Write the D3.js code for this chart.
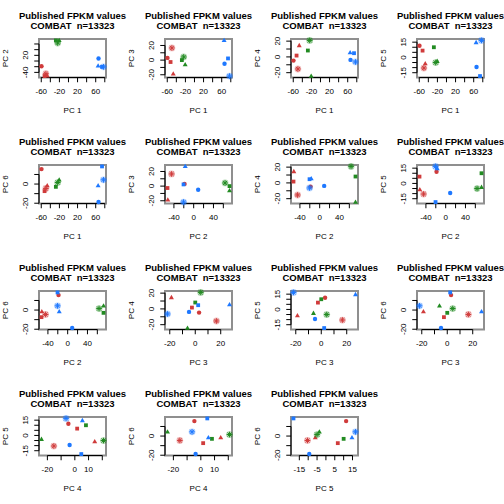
<!DOCTYPE html>
<html><head><meta charset="utf-8">
<script src="https://cdn.jsdelivr.net/npm/d3@7"></script>
<style>body{margin:0;background:#fff}svg text{font-family:"Liberation Sans",Arial,sans-serif;white-space:pre}</style>
</head><body><svg id="c" width="504" height="504"></svg>
<script>
// samples
const sampleGroup = ["red","red","red","red","green","green","green","blue","blue","blue","blue"];
const sampleShape = ["circle","square","triangle","star","square","triangle","star","circle","square","triangle","star"];
// principal components
const pc1 = [-59.5,-52.7,-46.8,-49.8,-27.8,-20.5,-23.8,66.2,73.9,65.3,77.2];
const pc2 = [-18.5,-53.0,-52.3,-44.7,72.5,72.5,63.5,9.1,-20.5,-17.1,-20.5];
const pc3 = [3.0,-2.6,-18.7,16.6,0.0,-6.1,4.3,-4.9,2.3,26.9,-21.8];
const pc4 = [-4.7,1.7,14.5,-15.3,8.1,-24.3,20.9,-3.8,4.7,5.5,-6.4];
const pc5 = [11.4,6.7,-6.0,-10.4,10.0,-3.7,-5.0,-9.4,-18.3,14.7,16.7];
const pc6 = [15.6,-7.4,-1.5,-4.6,-2.9,4.4,1.6,-18.8,18.4,-1.5,4.4];
const pcs = [pc1,pc2,pc3,pc4,pc5,pc6];
const pcNames = ["PC 1","PC 2","PC 3","PC 4","PC 5","PC 6"];
// ticks and labels per PC
const pcTicks = [[-60,-40,-20,0,20,40,60,80],[-40,-20,0,20,40,60],[-20,-10,0,10,20],[-20,-10,0,10,20],[-15,-10,-5,0,5,10,15],[-20,-10,0,10]];
const xLabels = [[-60,-20,20,60],[-40,0,40],[-20,0,20],[-20,0,10],[-15,-5,5,15],[-20,0]];
const yLabels = [[-60,-20,20,60],[-40,20],[-20,0,20],[-20,0,20],[-15,0,15],[-20,0]];
// panel pairs (x PC index, y PC index)
const pairs = [[0,1],[0,2],[0,3],[0,4],[0,5],[1,2],[1,3],[1,4],[1,5],[2,3],[2,4],[2,5],[3,4],[3,5],[4,5]];
const titleLines = ["Published FPKM values","COMBAT  n=13323"];
const colors = {red:"#D03B3B",green:"#228B22",blue:"#1E78FF"};

const svg = d3.select("#c");
const cell = 126, L = 39, R = 106, T = 39, B = 77.5;
function padded(arr){const e=d3.extent(arr);const p=(e[1]-e[0])*0.04;return [e[0]-p,e[1]+p];}

pairs.forEach((pr,i)=>{
  const col=i%4,row=Math.floor(i/4);
  const g=svg.append("g").attr("transform",`translate(${col*cell},${row*cell})`);
  const xi=pr[0],yi=pr[1];
  const x=d3.scaleLinear().domain(padded(pcs[xi])).range([L,R]);
  const y=d3.scaleLinear().domain(padded(pcs[yi])).range([B,T]);
  // box
  g.append("rect").attr("x",L).attr("y",T).attr("width",R-L).attr("height",B-T)
    .attr("fill","none").attr("stroke","#8f8f8f").attr("stroke-width",2);
  // x axis
  const xt=pcTicks[xi];
  g.append("line").attr("x1",x(xt[0])).attr("x2",x(xt[xt.length-1])).attr("y1",B).attr("y2",B).attr("stroke","#000").attr("stroke-width",1);
  g.selectAll(".xt").data(xt).join("line").attr("x1",d=>x(d)).attr("x2",d=>x(d)).attr("y1",B).attr("y2",B+4.75).attr("stroke","#000");
  g.selectAll(".xl").data(xLabels[xi]).join("text").attr("x",d=>x(d)).attr("y",91.7)
    .attr("text-anchor","middle").attr("dominant-baseline","central").attr("font-size",8).text(d=>String(d));
  // y axis
  const yt=pcTicks[yi];
  g.append("line").attr("y1",y(yt[0])).attr("y2",y(yt[yt.length-1])).attr("x1",L).attr("x2",L).attr("stroke","#000").attr("stroke-width",1);
  g.selectAll(".yt").data(yt).join("line").attr("y1",d=>y(d)).attr("y2",d=>y(d)).attr("x1",L).attr("x2",L-4.75).attr("stroke","#000");
  g.selectAll(".yl").data(yLabels[yi]).join("text").attr("transform",d=>`translate(25,${y(d)}) rotate(-90)`)
    .attr("text-anchor","middle").attr("dominant-baseline","central").attr("font-size",8).text(d=>String(d));
  // titles
  g.append("text").attr("x",(L+R)/2).attr("y",110).attr("text-anchor","middle").attr("dominant-baseline","central").attr("font-size",8).text(pcNames[xi]);
  g.append("text").attr("transform",`translate(5.5,${(T+B)/2}) rotate(-90)`).attr("text-anchor","middle").attr("dominant-baseline","central").attr("font-size",8).text(pcNames[yi]);
  titleLines.forEach((t,k)=>g.append("text").attr("x",(L+R)/2).attr("y",15+k*10).attr("text-anchor","middle")
    .attr("dominant-baseline","central").attr("font-size",9.5).attr("font-weight","bold").text(t));
  // points
  sampleGroup.forEach((grp,s)=>{
    const px=x(pcs[xi][s]),py=y(pcs[yi][s]),c=colors[grp],sh=sampleShape[s];
    if(sh==="circle") g.append("circle").attr("cx",px).attr("cy",py).attr("r",2.2).attr("fill",c);
    else if(sh==="square") g.append("rect").attr("x",px-1.9).attr("y",py-1.9).attr("width",3.8).attr("height",3.8).attr("fill",c);
    else if(sh==="triangle"){const a=2.6;g.append("path").attr("d",`M${px},${py-a}L${px+a*0.95},${py+a*0.65}L${px-a*0.95},${py+a*0.65}Z`).attr("fill",c);}
    else {
      g.append("circle").attr("cx",px).attr("cy",py).attr("r",3.4).attr("fill",c).attr("opacity",0.35);
      const a=2.8,b=a*0.707;
      g.append("path").attr("d",`M${px-a},${py}L${px+a},${py}M${px},${py-a}L${px},${py+a}M${px-b},${py-b}L${px+b},${py+b}M${px-b},${py+b}L${px+b},${py-b}`)
        .attr("stroke",c).attr("stroke-width",1).attr("fill","none");
    }
  });
});
</script></body></html>
